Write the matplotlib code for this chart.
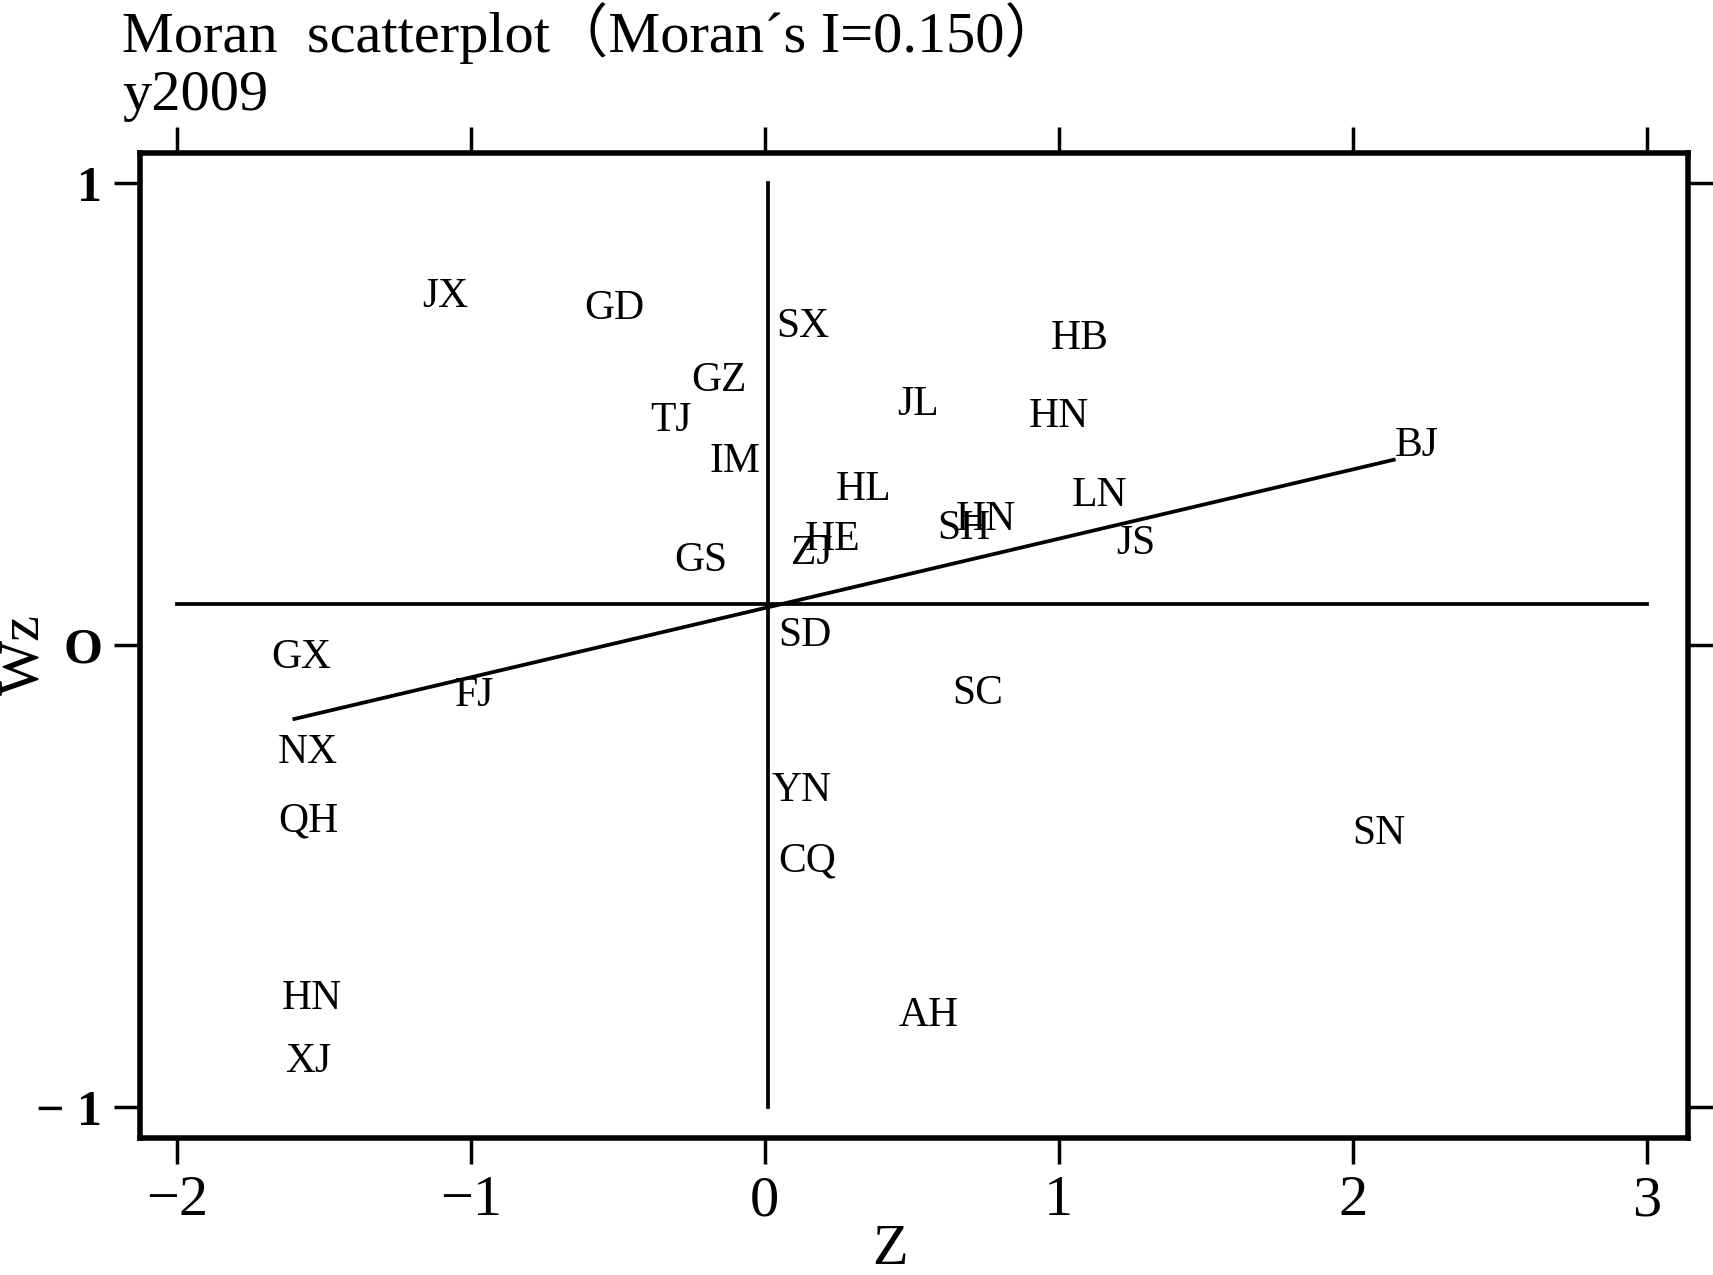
#import libraries
import numpy as np
import matplotlib.pyplot as plt

# province codes and their (z, Wz) positions
provinces = ["JX", "GD", "SX", "GZ", "TJ", "IM", "HB", "JL", "HN", "BJ",
             "HL", "LN", "SH", "HN", "HE", "ZJ", "JS", "GS", "SD", "GX",
             "FJ", "SC", "NX", "YN", "QH", "SN", "CQ", "HN", "AH", "XJ"]
z = [-1.086, -0.513, 0.130, -0.156, -0.320, -0.100, 1.071, 0.520, 1.000, 2.219,
     0.338, 1.138, 0.677, 0.751, 0.230, 0.160, 1.264, -0.219, 0.138, -1.576,
     -0.989, 0.725, -1.554, 0.126, -1.554, 2.089, 0.145, -1.539, 0.558, -1.554]
wz = [0.754, 0.728, 0.690, 0.574, 0.487, 0.397, 0.664, 0.520, 0.496, 0.433,
      0.338, 0.324, 0.253, 0.272, 0.229, 0.199, 0.220, 0.184, 0.021, -0.026,
      -0.109, -0.104, -0.232, -0.314, -0.381, -0.407, -0.466, -0.764, -0.801, -0.901]

moran_i = 0.150
intercept = 0.081
mean_wz = 0.09
fit_range = [-1.6, 2.14]
x_ticks = [-2, -1, 0, 1, 2, 3]
x_ticklabels = ["\u22122", "\u22121", "0", "1", "2", "3"]
y_ticks = [-1, 0, 1]
y_ticklabels = ["\u2212 1", "O", "1"]

serif = "Liberation Serif"

fig = plt.figure(figsize=(17.13, 12.75), dpi=100)
ax = fig.add_axes([0.0816, 0.1075, 0.9038, 0.7725])

# quadrant lines and regression line
ax.plot([-2, 3], [mean_wz, mean_wz], color="black", lw=2.7)
ax.plot([0.01, 0.01], [-1, 1], color="black", lw=2.7)
xf = np.array(fit_range)
ax.plot(xf, intercept + moran_i * xf, color="black", lw=2.7)

# labels instead of markers
for name, xv, yv in zip(provinces, z, wz):
    ax.text(xv, yv, name, ha="center", va="center", fontsize=30, family=serif)

ax.set_xlim(-2.126, 3.141)
ax.set_ylim(-1.066, 1.066)

ax.set_xticks(x_ticks)
ax.set_xticklabels(x_ticklabels, fontsize=42, family=serif)
ax.set_yticks(y_ticks)
ax.set_yticklabels(y_ticklabels, fontsize=36, family=serif, fontweight="bold")
ax.tick_params(axis="both", direction="out", length=19, width=2.5, pad=8,
               top=True, right=True, labeltop=False, labelright=False)
for s in ax.spines.values():
    s.set_linewidth(4)

fig.text(890 / 1713, 1 - 1250 / 1275, "Z", ha="center", va="center", fontsize=42, family=serif)
fig.text(24 / 1713, 1 - 655 / 1275, "Wz", ha="center", va="center", rotation=90,
         fontsize=42, family=serif)

fig.text(122 / 1713, 1 - 33 / 1275, "Moran  scatterplot\uff08Moran\u00b4s I=0.150\uff09",
         ha="left", va="center", fontsize=42, family=[serif, "Noto Sans CJK SC"])
fig.text(122 / 1713, 1 - 96 / 1275, "y2009", ha="left", va="center", fontsize=42, family=serif)

fig.savefig("out.png", dpi=100)
